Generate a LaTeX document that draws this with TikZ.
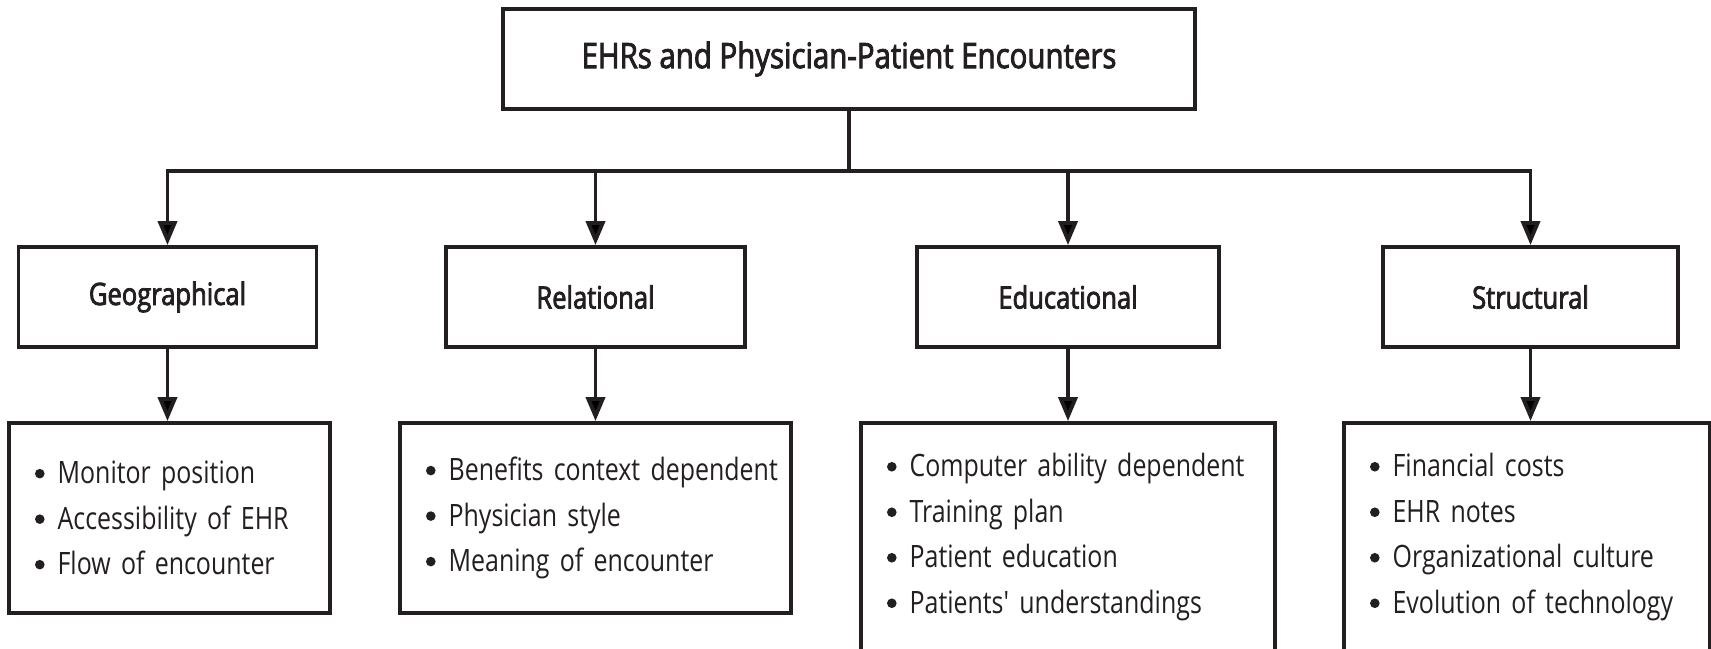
\documentclass[tikz,border=0pt]{standalone}
\usepackage{fontspec}
\setmainfont{Open Sans}
\newfontfamily\titlefont{Open Sans}[FakeStretch=0.84, FakeBold=2.5]
\newfontfamily\catfont{Open Sans}[FakeStretch=0.83, FakeBold=2.5]
\newfontfamily\itemfont{Open Sans}[FakeStretch=0.81]
\usetikzlibrary{arrows.meta}
\definecolor{ink}{HTML}{231F20}
% round list marker, centred a little above the x-height middle
\newcommand{\dotmark}{\tikz[baseline=-5pt]\fill[ink] (0,0) circle (2.4pt);}
% one bulleted line of a list box
\newcommand{\bitem}[1]{\mbox{\dotmark\hspace{6.5pt}#1}\par}

\begin{document}
\begin{tikzpicture}[x=0.5pt, y=-0.5pt,
  box/.style={draw=ink, line width=1.9pt, rectangle, inner sep=0pt, text=ink},
  titlebox/.style={box, minimum width=346pt, minimum height=50pt,
    font=\titlefont\fontsize{17.5}{21}\selectfont},
  catbox/.style={box, minimum height=50pt,
    font=\catfont\fontsize{15.4}{18}\selectfont},
  listbox/.style={box, align=left,
    execute at begin node={\setlength{\parindent}{0pt}},
    font=\itemfont\fontsize{15.4}{22.75}\selectfont},
  link/.style={draw=ink, line width=1.9pt, -{Triangle[length=12pt,width=9.5pt]}}]

  % page area
  \useasboundingbox (0,0) rectangle (1711,648);
  \fill[white] (0,0) rectangle (1711,648);
  \clip (0,0) rectangle (1711,648);

  % root
  \node[titlebox] (top) at (849,59) {EHRs and Physician-Patient Encounters};

  % the four dimensions
  \node[catbox, minimum width=149pt]   (geo) at (167.5,297) {Geographical};
  \node[catbox, minimum width=149.5pt] (rel) at (595.5,297) {Relational};
  \node[catbox, minimum width=151pt]   (edu) at (1068,297)  {Educational};
  \node[catbox, minimum width=147.5pt] (str) at (1530.5,297) {Structural};

  % factor lists
  \node[listbox, minimum width=160.5pt, minimum height=95pt, text width=134.5pt]
    (geol) at (169.5,518)
    {\bitem{Monitor position}\bitem{Accessibility of EHR}\bitem{Flow of encounter}};
  \node[listbox, minimum width=195.5pt, minimum height=95pt, text width=169.5pt]
    (rell) at (595.5,518)
    {\bitem{Benefits context dependent}\bitem{Physician style}\bitem{Meaning of encounter}};
  \node[listbox, minimum width=207pt, minimum height=114pt, text width=181pt]
    (edul) at (1068,537)
    {\bitem{Computer ability dependent}\bitem{Training plan}\bitem{Patient education}\bitem{Patients' understandings}};
  \node[listbox, minimum width=183pt, minimum height=114pt, text width=157pt]
    (strl) at (1527,537)
    {\bitem{Financial costs}\bitem{EHR notes}\bitem{Organizational culture}\bitem{Evolution of technology}};

  % branching connectors
  \coordinate (bus) at (849,171);
  \draw[link] (top.south) -- (bus) -| (geo.north);
  \draw[link] (top.south) -- (bus) -| (rel.north);
  \draw[link] (top.south) -- (bus) -| (edu.north);
  \draw[link] (top.south) -- (bus) -| (str.north);

  \draw[link] (geo.south) -- (geo.south |- geol.north);
  \draw[link] (rel.south) -- (rel.south |- rell.north);
  \draw[link] (edu.south) -- (edu.south |- edul.north);
  \draw[link] (str.south) -- (str.south |- strl.north);
\end{tikzpicture}
\end{document}
